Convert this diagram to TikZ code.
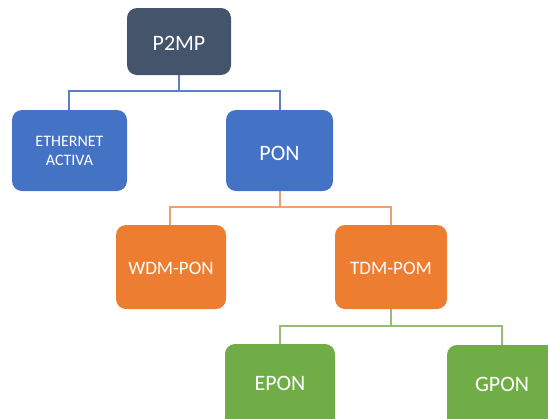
\documentclass[tikz,border=0pt]{standalone}
\usepackage{fontspec}
\setmainfont{Carlito}
\begin{document}
\begin{tikzpicture}[x=1pt,y=-1pt,
  box/.style={rounded corners=10pt,draw=none},
  lbl/.style={text=white,align=center,inner sep=0pt}]
\definecolor{slate}{HTML}{44546A}
\definecolor{bluebox}{HTML}{4472C4}
\definecolor{orangebox}{HTML}{ED7D31}
\definecolor{greenbox}{HTML}{70AD47}
\definecolor{blueline}{HTML}{5B7FC8}
\definecolor{orangeline}{HTML}{F0A070}
\definecolor{greenline}{HTML}{92BF78}
\useasboundingbox (0,0) rectangle (548,418);
\clip (0,0) rectangle (548,418);
% connectors
\coordinate (p2mpb) at (179,75);
\coordinate (j1) at (179,91);
\coordinate (etht) at (69,110);
\coordinate (pont) at (280,110);
\draw[blueline,line width=1.4pt] (p2mpb) -- (j1) (etht) |- (j1) -| (pont);
\coordinate (ponb) at (280,191);
\coordinate (j2) at (280,207);
\coordinate (wdmt) at (170,225);
\coordinate (tdmt) at (391,225);
\draw[orangeline,line width=1.4pt] (ponb) -- (j2) (wdmt) |- (j2) -| (tdmt);
\coordinate (tdmb) at (391,309);
\coordinate (j3) at (391,326);
\coordinate (epont) at (280,344);
\coordinate (gpont) at (502,345);
\draw[greenline,line width=1.4pt] (tdmb) -- (j3) (epont) |- (j3) -| (gpont);
% boxes
\fill[box,slate] (127,8) rectangle (231,75);
\fill[box,bluebox] (12,110) rectangle (127,191);
\fill[box,bluebox] (226,110) rectangle (333,191);
\fill[box,orangebox] (116,225) rectangle (226,309);
\fill[box,orangebox] (335,225) rectangle (447,309);
\fill[box,greenbox] (225,344) rectangle (335,440);
\fill[box,greenbox] (447,345) rectangle (570,440);
% labels
\node[lbl,font=\fontsize{22}{22}\selectfont] (p2mp) at (179,43.5) {P2MP};
\node[lbl,font=\fontsize{16}{18.5}\selectfont] (eth) at (69.5,151) {ETHERNET\\ACTIVA};
\node[lbl,font=\fontsize{22}{22}\selectfont] (pon) at (279.5,153) {PON};
\node[lbl,font=\fontsize{19}{19}\selectfont] (wdm) at (171,268) {WDM-PON};
\node[lbl,font=\fontsize{19}{19}\selectfont] (tdm) at (391,268) {TDM-POM};
\node[lbl,font=\fontsize{22}{22}\selectfont] (epon) at (280,383) {EPON};
\node[lbl,font=\fontsize{22}{22}\selectfont] (gpon) at (502,384) {GPON};
\end{tikzpicture}
\end{document}
